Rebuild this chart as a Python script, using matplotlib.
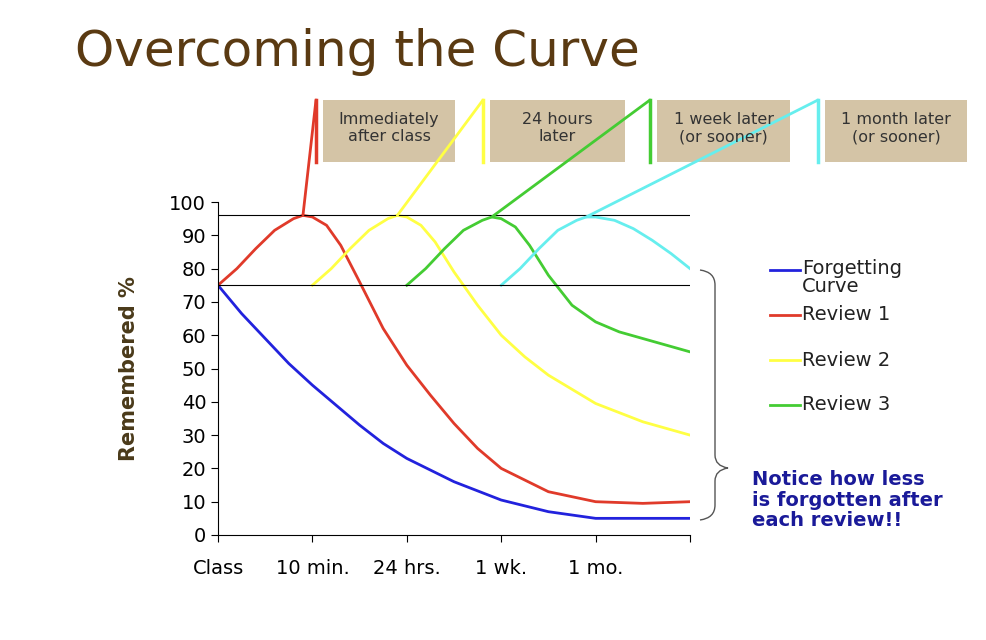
import matplotlib.pyplot as plt
from matplotlib.patches import ConnectionPatch, Rectangle, PathPatch
from matplotlib.path import Path
from matplotlib.lines import Line2D

x_labels = ['Class', '10 min.', '24 hrs.', '1 wk.', '1 mo.', '']

forget_x = [0, 0.25, 0.5, 0.75, 1, 1.25, 1.5, 1.75, 2, 2.5, 3, 3.5, 4, 4.5, 5]
forget_y = [75, 66.5, 59, 51.5, 45, 39, 33, 27.5, 23, 16, 10.5, 7, 5, 5, 5]
rev1_x = [0, 0.2, 0.4, 0.6, 0.8, 0.9, 1.0, 1.15, 1.3, 1.5, 1.75, 2, 2.25, 2.5, 2.75, 3, 3.5, 4, 4.5, 5]
rev1_y = [75, 80, 86, 91.5, 95, 96, 95.5, 93, 87, 76, 62, 51, 42, 33.5, 26, 20, 13, 10, 9.5, 10]
rev2_x = [1, 1.2, 1.4, 1.6, 1.8, 1.9, 2.0, 2.15, 2.3, 2.5, 2.75, 3, 3.25, 3.5, 4, 4.5, 5]
rev2_y = [75, 80, 86, 91.5, 95, 96, 95.5, 93, 88, 79, 69, 60, 53.5, 48, 39.5, 34, 30]
rev3_x = [2, 2.2, 2.4, 2.6, 2.8, 2.9, 3.0, 3.15, 3.3, 3.5, 3.75, 4, 4.25, 4.5, 5]
rev3_y = [75, 80, 86, 91.5, 94.5, 95.5, 95, 92.5, 87, 78, 69, 64, 61, 59, 55]
rev4_x = [3, 3.2, 3.4, 3.6, 3.8, 3.9, 4.0, 4.2, 4.4, 4.6, 4.8, 5]
rev4_y = [75, 80, 86, 91.5, 94.5, 95.5, 95.5, 94.5, 92, 88.5, 84.5, 80]

box_texts = ['Immediately\nafter class', '24 hours\nlater', '1 week later\n(or sooner)', '1 month later\n(or sooner)']
box_left = [323, 490, 657, 825]
box_right = [455, 625, 790, 967]
peak_x = [0.9, 1.9, 2.9, 3.9]
colors = ['#e03a2a', '#ffff44', '#44cc33', '#66eeee']

H = 640
fig = plt.figure(figsize=(9.86, 6.4), dpi=100)
fig.patch.set_facecolor('white')
fig.text(75 / 986, 1 - 52 / H, 'Overcoming the Curve', fontsize=36, color='#5a3a12',
         va='center', ha='left', family='DejaVu Sans')

ax = fig.add_axes([218 / 986, (H - 535) / H, (690 - 218) / 986, (535 - 202) / H])
ax.plot(forget_x, forget_y, color='#2222dd', lw=2)
ax.plot(rev1_x, rev1_y, color=colors[0], lw=2)
ax.plot(rev2_x, rev2_y, color=colors[1], lw=2)
ax.plot(rev3_x, rev3_y, color=colors[2], lw=2)
ax.plot(rev4_x, rev4_y, color=colors[3], lw=2)
ax.plot([0, 5], [96, 96], color='black', lw=0.8)
ax.plot([0, 5], [75, 75], color='black', lw=0.8)
ax.set_xlim(0, 5)
ax.set_ylim(0, 100)
ax.set_yticks(range(0, 101, 10))
ax.set_xticks(range(6))
ax.set_xticklabels(x_labels)
ax.tick_params(labelsize=14, direction='out', length=5)
ax.tick_params(axis='x', pad=12)
for s in ['top', 'right']:
    ax.spines[s].set_visible(False)
ax.set_ylabel('Remembered %', fontsize=15, fontweight='bold', labelpad=22, color='#4a3a1a')

for i in range(4):
    fig.add_artist(Rectangle((box_left[i], H - 162), box_right[i] - box_left[i], 62,
                             transform=None, facecolor='#d4c4a6', edgecolor='none'))
    fig.text((box_left[i] + box_right[i]) / 2 / 986, 1 - 128 / H, box_texts[i],
             ha='center', va='center', fontsize=11.5, color='#333333')
    lx = box_left[i] - 7
    fig.add_artist(Line2D([lx, lx], [H - 100, H - 162], transform=None, color=colors[i], lw=2.5))
    y0 = [96, 96, 95.5, 95.5][i]
    fig.add_artist(ConnectionPatch((peak_x[i], y0), (lx, H - 100), coordsA='data',
                                   coordsB='figure pixels', axesA=ax, color=colors[i], lw=2))

leg = [('Forgetting\nCurve', '#2222dd', 270), ('Review 1', colors[0], 315),
       ('Review 2', colors[1], 360), ('Review 3', colors[2], 405)]
for label, c, y in leg:
    fig.add_artist(Line2D([770, 800], [H - y, H - y], transform=None, color=c, lw=2))
    fig.text(802 / 986, 1 - y / H, label, fontsize=14, va='top' if '\n' in label else 'center',
             color='#222222', linespacing=0.9)
fig.texts[-4].set_position((802 / 986, 1 - 259 / H))

verts = [(700, H - 270), (715, H - 272), (715, H - 285), (715, H - 455), (715, H - 466), (728, H - 468),
         (715, H - 470), (715, H - 481), (715, H - 505), (715, H - 518), (700, H - 520)]
codes = [Path.MOVETO, Path.CURVE3, Path.CURVE3, Path.LINETO, Path.CURVE3, Path.CURVE3,
         Path.CURVE3, Path.CURVE3, Path.LINETO, Path.CURVE3, Path.CURVE3]
fig.add_artist(PathPatch(Path(verts, codes), transform=None, fill=False, color='#555555', lw=1))

fig.text(752 / 986, 1 - 500 / H, 'Notice how less\nis forgotten after\neach review!!', fontsize=14,
         fontweight='bold', color='#1a1a99', va='center', ha='left', linespacing=1.1)

fig.savefig('out.png', dpi=100)
